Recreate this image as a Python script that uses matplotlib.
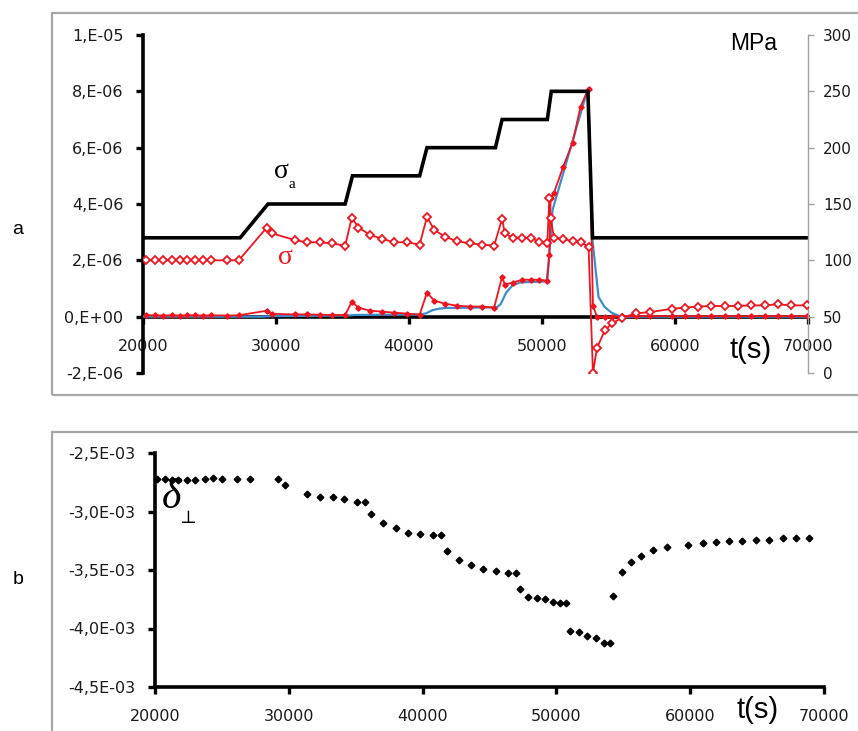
import matplotlib
matplotlib.use("Agg")
import matplotlib.pyplot as plt
from matplotlib.patches import Rectangle
from matplotlib.ticker import FixedLocator, FixedFormatter

# ---------------- data ----------------
# sigma_a (applied stress, MPa) step program
step_t = [20000, 27300, 29400, 35200, 35750, 40800, 41350, 46500, 47000, 50400, 50700, 53450, 53800, 70000]
step_mpa = [120, 120, 150, 150, 175, 175, 200, 200, 225, 225, 250, 250, 120, 120]

# sample times for sigma and strain-rate series
sample_t = [20200, 20900, 21500, 22200, 22800, 23300, 23900, 24500, 25100, 26300, 27200,
            29300, 29700, 31400, 32300, 33300, 34200, 35200,
            35700, 36200, 37100, 38000, 38900, 39850, 40800,
            41350, 41900, 42700, 43600, 44600, 45500, 46400,
            47000, 47200, 47800, 48500, 49200, 49800, 50400,
            50550, 50650, 50900, 51600, 52300, 52900, 53500,
            53830, 54130, 54730, 55260, 56010, 57060, 58110, 59760, 60730, 61710,
            62680, 63740, 64710, 65690, 66740, 67710, 68690, 69900]

# sigma (MPa), open diamonds
sigma_mpa = [100, 100, 100, 100, 100, 100, 100, 100, 100, 100, 100,
             129, 124, 118, 116, 116, 115, 113,
             138, 129, 122.5, 119, 116, 116, 114,
             138.5, 127, 121, 117, 115, 114, 113,
             137, 124, 120, 120, 120, 116, 115,
             155, 138, 120, 119, 117, 116, 112,
             0, 22, 38, 44, 49, 53, 54, 57, 58, 59,
             59.5, 59.5, 59.5, 60, 60, 61, 60, 60]

# strain rate (x1e-6 1/s), small filled diamonds
strain_rate_e6 = [0.05, 0.05, 0.04, 0.05, 0.04, 0.05, 0.05, 0.04, 0.05, 0.04, 0.05,
                  0.21, 0.10, 0.08, 0.08, 0.07, 0.06, 0.06,
                  0.53, 0.32, 0.21, 0.18, 0.14, 0.11, 0.07,
                  0.85, 0.57, 0.46, 0.39, 0.36, 0.36, 0.32,
                  1.42, 1.14, 1.21, 1.31, 1.31, 1.31, 1.28,
                  2.2, 4.2, 4.4, 5.33, 6.18, 7.46, 8.1,
                  0.39, 0.0, -0.02, 0.0, 0.01, 0.02, 0.02, 0.02, 0.02, 0.02,
                  0.02, 0.02, 0.02, 0.02, 0.02, 0.02, 0.02, 0.02]

# model strain rate (x1e-6 1/s), blue line
model_t = [20000, 29000, 29600, 35400, 35900, 40900, 41300, 41700, 42200, 42800, 46600, 46900,
           47300, 47800, 48400, 50350, 50550, 50800, 53450, 53800, 54250, 54700, 55200, 55900, 70000]
model_e6 = [0, 0, 0.02, 0.04, 0.06, 0.08, 0.12, 0.22, 0.28, 0.31, 0.33, 0.45,
            0.85, 1.12, 1.22, 1.25, 2.2, 3.8, 8.1, 2.7, 0.7, 0.35, 0.15, 0.0, 0.0]

# delta_perp (x1e-3)
delta_t = [20120, 20740, 21240, 21740, 22370, 22990, 23740, 24360, 24980, 26100, 27100,
           29220, 29720, 31340, 32330, 33280, 34150, 35120, 35700,
           36140, 37010, 37990, 38930, 39810, 40800, 41370,
           41790, 42700, 43650, 44540, 45480, 46420, 46980,
           47280, 47900, 48520, 49150, 49770, 50270, 50690,
           51010, 51690, 52260, 52930, 53560, 54010,
           54250, 54900, 55540, 56300, 57240, 58290, 59860, 60980, 61900, 62900,
           63890, 64890, 65910, 66900, 67870, 68880]
delta_e3 = [-2.722, -2.722, -2.727, -2.727, -2.730, -2.727, -2.722, -2.716, -2.722, -2.722, -2.722,
            -2.722, -2.774, -2.853, -2.873, -2.879, -2.896, -2.916, -2.916,
            -3.021, -3.101, -3.144, -3.181, -3.192, -3.201, -3.201,
            -3.335, -3.415, -3.457, -3.494, -3.508, -3.523, -3.523,
            -3.662, -3.728, -3.742, -3.750, -3.776, -3.785, -3.785,
            -4.021, -4.032, -4.061, -4.084, -4.121, -4.121,
            -3.720, -3.514, -3.429, -3.378, -3.329, -3.306, -3.286, -3.272, -3.263, -3.250,
            -3.250, -3.244, -3.244, -3.229, -3.229, -3.229]

# tick labels
x_ticks = [20000, 30000, 40000, 50000, 60000, 70000]
x_labels = ["20000", "30000", "40000", "50000", "60000", "70000"]
top_left_ticks = [-2e-6, 0, 2e-6, 4e-6, 6e-6, 8e-6, 1e-5]
top_left_labels = ["-2,E-06", "0,E+00", "2,E-06", "4,E-06", "6,E-06", "8,E-06", "1,E-05"]
top_right_ticks = [0, 50, 100, 150, 200, 250, 300]
top_right_labels = ["0", "50", "100", "150", "200", "250", "300"]
bot_ticks = [-4.5e-3, -4.0e-3, -3.5e-3, -3.0e-3, -2.5e-3]
bot_labels = ["-4,5E-03", "-4,0E-03", "-3,5E-03", "-3,0E-03", "-2,5E-03"]

# ---------------- figure ----------------
W, H = 858, 731
fig = plt.figure(figsize=(W / 100, H / 100), dpi=100)
fig.patch.set_facecolor("white")

def fx(px):
    return px / W

def fy(py):
    return 1 - py / H

RED = "#f0141e"
BLUE = "#3c8ecf"
TICKFS = 11.5

# frames
fig.patches.append(Rectangle((fx(52), fy(395)), fx(870) - fx(52), fy(13) - fy(395),
                             transform=fig.transFigure, fill=False, edgecolor="#a6a6a6", lw=1.6))
fig.patches.append(Rectangle((fx(52), fy(745)), fx(870) - fx(52), fy(432) - fy(745),
                             transform=fig.transFigure, fill=False, edgecolor="#a6a6a6", lw=1.6))

# ---------- top panel ----------
ax = fig.add_axes([fx(143), fy(373), fx(808) - fx(143), fy(35) - fy(373)])
ax.set_xlim(20000, 70000)
ax.set_ylim(-2e-6, 1e-5)
ax.patch.set_alpha(0)
for s in ["top", "right"]:
    ax.spines[s].set_visible(False)
ax.spines["left"].set_linewidth(2.6)
ax.spines["bottom"].set_linewidth(2.6)
ax.spines["bottom"].set_position(("data", 0))
ax.xaxis.set_major_locator(FixedLocator(x_ticks))
ax.xaxis.set_major_formatter(FixedFormatter(x_labels))
ax.yaxis.set_major_locator(FixedLocator(top_left_ticks))
ax.yaxis.set_major_formatter(FixedFormatter(top_left_labels))
ax.tick_params(axis="x", direction="out", length=5, width=2.4, pad=11, labelsize=TICKFS, colors="black")
ax.tick_params(axis="y", direction="out", length=5, width=2.4, pad=9, labelsize=TICKFS)
for lab in ax.get_xticklabels() + ax.get_yticklabels():
    lab.set_color("#1a1a1a")

ax.plot(model_t, [v * 1e-6 for v in model_e6], color=BLUE, lw=1.6, zorder=3)
ax.plot(sample_t, [v * 1e-6 for v in strain_rate_e6], color=RED, lw=1.3, marker="D",
        ms=2.7, mfc=RED, mec=RED, zorder=4)

ax2 = ax.twinx()
ax2.set_ylim(0, 300)
ax2.set_xlim(20000, 70000)
for s in ["top", "left", "bottom"]:
    ax2.spines[s].set_visible(False)
ax2.spines["right"].set_color("#a0a0a0")
ax2.spines["right"].set_linewidth(1.0)
ax2.yaxis.set_major_locator(FixedLocator(top_right_ticks))
ax2.yaxis.set_major_formatter(FixedFormatter(top_right_labels))
ax2.tick_params(axis="y", direction="out", length=4.5, width=1, color="#a0a0a0", pad=6.5,
                labelsize=11, labelcolor="#1a1a1a")

ax2.plot(step_t, step_mpa, color="black", lw=2.6, zorder=2, solid_joinstyle="miter")
ax2.plot(sample_t, sigma_mpa, color=RED, lw=1.3, marker="D", ms=4.5, mfc="white",
         mec=RED, mew=1.3, zorder=5)

# annotations top
fig.text(fx(281), fy(172), "σ", family=["Liberation Serif", "DejaVu Serif"], fontsize=20,
         ha="center", va="center", color="black")
fig.text(fx(292), fy(185), "a", family=["Liberation Serif", "DejaVu Serif"], fontsize=11,
         ha="center", va="center", color="black")
fig.text(fx(285), fy(257), "σ", family=["Liberation Serif", "DejaVu Serif"], fontsize=20,
         ha="center", va="center", color=RED)
fig.text(fx(754), fy(43), "MPa", family="Liberation Sans", fontsize=16.5,
         ha="center", va="center", color="black")
fig.text(fx(751), fy(350), "t(s)", family="Liberation Sans", fontsize=21,
         ha="center", va="center", color="black")
fig.text(fx(18), fy(230), "a", family="Liberation Sans", fontsize=14,
         ha="center", va="center", color="black")

# ---------- bottom panel ----------
bx = fig.add_axes([fx(155), fy(687), fx(824) - fx(155), fy(453) - fy(687)])
bx.set_xlim(20000, 70000)
bx.set_ylim(-4.5e-3, -2.5e-3)
bx.patch.set_alpha(0)
for s in ["top", "right"]:
    bx.spines[s].set_visible(False)
bx.spines["left"].set_linewidth(2.6)
bx.spines["bottom"].set_linewidth(2.6)
bx.xaxis.set_major_locator(FixedLocator(x_ticks))
bx.xaxis.set_major_formatter(FixedFormatter(x_labels))
bx.yaxis.set_major_locator(FixedLocator(bot_ticks))
bx.yaxis.set_major_formatter(FixedFormatter(bot_labels))
bx.tick_params(axis="x", direction="out", length=5, width=2.4, pad=11, labelsize=TICKFS)
bx.tick_params(axis="y", direction="out", length=5, width=2.4, pad=9, labelsize=TICKFS)
for lab in bx.get_xticklabels() + bx.get_yticklabels():
    lab.set_color("#1a1a1a")

bx.plot(delta_t, [v * 1e-3 for v in delta_e3], linestyle="none", marker="D", ms=3.4,
        mfc="black", mec="black", zorder=4)

fig.text(fx(171), fy(498), "δ", family=["Liberation Serif", "DejaVu Serif"], style="italic",
         fontsize=30, ha="center", va="center", color="black")
fig.text(fx(188), fy(518), "⊥", family=["DejaVu Serif"], fontsize=13,
         ha="center", va="center", color="black")
fig.text(fx(758), fy(710), "t(s)", family="Liberation Sans", fontsize=21,
         ha="center", va="center", color="black")
fig.text(fx(18), fy(580), "b", family="Liberation Sans", fontsize=14,
         ha="center", va="center", color="black")

fig.savefig("out.png", dpi=100, facecolor="white")
